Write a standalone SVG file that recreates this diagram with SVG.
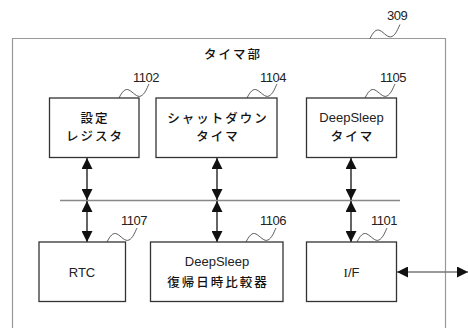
<svg xmlns="http://www.w3.org/2000/svg" xmlns:xlink="http://www.w3.org/1999/xlink" width="468" height="328" viewBox="0 0 468 328">
<style>
.box{fill:#fff;stroke:#333;stroke-width:1.3}
.jp{font-family:"Noto Sans CJK JP","Liberation Sans",sans-serif;font-size:12.5px;font-weight:500;fill:#111;text-anchor:middle;letter-spacing:2px}
.en{font-family:"Liberation Sans",Arial,sans-serif;font-size:13px;fill:#222;text-anchor:middle}
.num{font-family:"Liberation Sans",Arial,sans-serif;font-size:13px;fill:#222;letter-spacing:-0.5px}
.sq{fill:none;stroke:#333;stroke-width:0.8}
.arr{stroke:#111;stroke-width:1.3;marker-start:url(#ah);marker-end:url(#ah)}
</style>
<defs>
<marker id="ah" markerUnits="userSpaceOnUse" markerWidth="11" markerHeight="11" viewBox="0 0 11 11" refX="11" refY="5.5" orient="auto-start-reverse">
<path d="M0,0 L11,5.5 L0,11 Z" fill="#111"/>
</marker>
<path id="sqg" d="M0,0 C3,-6 6,-10 10,-8 C14,-6 18,0 22,-2 C26,-4 28,-10 30,-14"/>
</defs>
<g id="frame">
<path d="M12.5,330 L12.5,38.5 L445.5,38.5 L445.5,330" fill="none" stroke="#999" stroke-width="1.2"/>
<text class="jp" x="233" y="59" font-weight="bold">タイマ部</text>
<use href="#sqg" class="sq" transform="translate(370,38.5)"/>
<text class="num" x="387" y="20">309</text>
</g>
<g id="connectors">
<line x1="60" y1="200.5" x2="400" y2="200.5" stroke="#888" stroke-width="1.3"/>
<line class="arr" x1="87" y1="158" x2="87" y2="200"/>
<line class="arr" x1="217" y1="158" x2="217" y2="200"/>
<line class="arr" x1="351" y1="158" x2="351" y2="200"/>
<line class="arr" x1="87" y1="201" x2="87" y2="242"/>
<line class="arr" x1="217" y1="201" x2="217" y2="242"/>
<line class="arr" x1="351" y1="201" x2="351" y2="242"/>
<line x1="397" y1="272" x2="468" y2="272" stroke="#777" stroke-width="1.3" marker-start="url(#ah)" marker-end="url(#ah)"/>
</g>
<g id="n1102">
<rect class="box" x="49.5" y="98" width="89.5" height="59.5"/>
<text class="jp" x="95" y="122.5">設定</text>
<text class="jp" x="95" y="141">レジスタ</text>
<use href="#sqg" class="sq" transform="translate(119,98)"/>
<text class="num" x="133" y="82">1102</text>
</g>
<g id="n1104">
<rect class="box" x="156" y="98" width="121" height="59.5"/>
<text class="jp" x="218" y="122.5">シャットダウン</text>
<text class="jp" x="218" y="141">タイマ</text>
<use href="#sqg" class="sq" transform="translate(247,98)"/>
<text class="num" x="260" y="82">1104</text>
</g>
<g id="n1105">
<rect class="box" x="306.5" y="98" width="90" height="59.5"/>
<text class="en" x="351.5" y="122">DeepSleep</text>
<text class="jp" x="352.5" y="141">タイマ</text>
<use href="#sqg" class="sq" transform="translate(365,98)"/>
<text class="num" x="380" y="82">1105</text>
</g>
<g id="n1107">
<rect class="box" x="39" y="242" width="86.5" height="59.5"/>
<text class="en" x="82" y="277">RTC</text>
<use href="#sqg" class="sq" transform="translate(107,242)"/>
<text class="num" x="121" y="225">1107</text>
</g>
<g id="n1106">
<rect class="box" x="150.5" y="242" width="132.5" height="59.5"/>
<text class="en" x="217" y="266">DeepSleep</text>
<text class="jp" x="218" y="287">復帰日時比較器</text>
<use href="#sqg" class="sq" transform="translate(246,242)"/>
<text class="num" x="260" y="225">1106</text>
</g>
<g id="n1101">
<rect class="box" x="306.5" y="242" width="90" height="59.5"/>
<text class="en" x="351.5" y="277"><tspan font-family="Liberation Serif,serif">I</tspan>/F</text>
<use href="#sqg" class="sq" transform="translate(357,242)"/>
<text class="num" x="371" y="225">1101</text>
</g>
</svg>
